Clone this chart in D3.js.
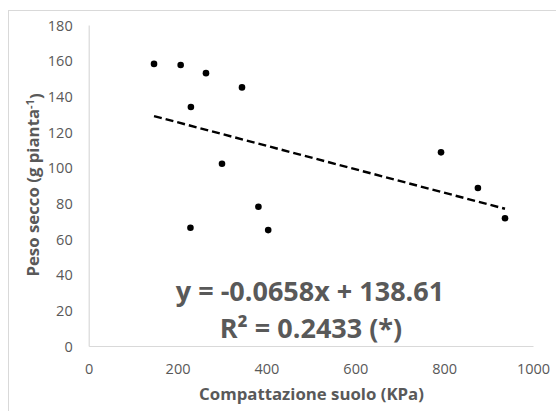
<!DOCTYPE html>
<html>
<head>
<meta charset="utf-8">
<script src="https://cdn.jsdelivr.net/npm/d3@7"></script>
<style>
  html, body { margin: 0; padding: 0; background: #fff; }
  svg { display: block; }
  text { font-family: "Open Sans", "Noto Sans", sans-serif; fill: #595959; }
</style>
</head>
<body>
<svg id="chart" width="556" height="411"></svg>
<script>
// ---- data ----
const compattazione = [147, 207, 264, 345, 230, 300, 382, 229, 404, 793, 876, 937];
const pesoSecco = [158.2, 157.6, 153.0, 145.0, 134.0, 102.2, 78.1, 66.3, 65.0, 108.6, 88.6, 71.6];
const xTicks = [0, 200, 400, 600, 800, 1000];
const yTicks = [0, 20, 40, 60, 80, 100, 120, 140, 160, 180];
const slope = -0.0658;
const intercept = 138.61;
const eqLabel = "y = -0.0658x + 138.61";
const r2Label = "R\u00B2 = 0.2433 (*)";
const xTitle = "Compattazione suolo (KPa)";
const yTitleMain = "Peso secco (g pianta";
const yTitleSup = "-1";
const yTitleEnd = ")";

// ---- layout ----
const svg = d3.select("#chart");
const W = 556, H = 411;
const x = d3.scaleLinear().domain([0, 1000]).range([88.7, 533]);
const y = d3.scaleLinear().domain([0, 180]).range([346, 25]);

// outer border
svg.append("rect")
  .attr("x", 8.5).attr("y", 10.5)
  .attr("width", W).attr("height", H)
  .attr("fill", "none").attr("stroke", "#d9d9d9").attr("stroke-width", 1);

// axes
const xAxis = d3.axisBottom(x).tickValues(xTicks).tickSize(0).tickPadding(0).tickFormat(d3.format("d"));
const yAxis = d3.axisLeft(y).tickValues(yTicks).tickSize(0).tickPadding(0).tickFormat(d3.format("d"));

const gx = svg.append("g").attr("transform", `translate(0,${y(0)})`).call(xAxis);
gx.select(".domain").attr("stroke", "#d9d9d9").attr("stroke-width", 1.2);
gx.selectAll("text")
  .attr("y", 0).attr("dy", null)
  .attr("transform", "translate(0,28)")
  .style("font-size", "14.5px").style("fill", "#595959").style("font-family", '"Open Sans", sans-serif');

const gy = svg.append("g").attr("transform", `translate(${x(0)},0)`).call(yAxis);
gy.select(".domain").attr("stroke", "#d9d9d9").attr("stroke-width", 1.2);
gy.selectAll("text")
  .attr("x", -16).attr("dy", "0.36em")
  .style("font-size", "14.5px").style("fill", "#595959").style("font-family", '"Open Sans", sans-serif');

// trend line
const xMin = d3.min(compattazione), xMax = d3.max(compattazione);
const trend = [xMin, xMax].map(v => [v, slope * v + intercept]);
svg.append("path")
  .datum(trend)
  .attr("d", d3.line().x(d => x(d[0])).y(d => y(d[1])))
  .attr("fill", "none").attr("stroke", "#000")
  .attr("stroke-width", 2.4).attr("stroke-dasharray", "8,4");

// points
svg.append("g").selectAll("circle")
  .data(compattazione.map((v, i) => [v, pesoSecco[i]]))
  .join("circle")
  .attr("cx", d => x(d[0])).attr("cy", d => y(d[1]))
  .attr("r", 3.3).attr("fill", "#000");

// equation
svg.append("text").attr("x", 310).attr("y", 301)
  .attr("text-anchor", "middle")
  .style("font-size", "27px").style("font-weight", "bold")
  .text(eqLabel);
svg.append("text").attr("x", 311).attr("y", 338)
  .attr("text-anchor", "middle")
  .style("font-size", "27px").style("font-weight", "bold")
  .text(r2Label);

// axis titles
svg.append("text").attr("x", 311.5).attr("y", 400)
  .attr("text-anchor", "middle")
  .style("font-size", "16.8px").style("font-weight", "bold")
  .text(xTitle);

const yt = svg.append("text")
  .attr("transform", "translate(39,185) rotate(-90)")
  .attr("text-anchor", "middle")
  .style("font-size", "16.8px").style("font-weight", "bold");
yt.append("tspan").text(yTitleMain);
yt.append("tspan").attr("dy", "-0.45em").style("font-size", "11px").text(yTitleSup);
yt.append("tspan").attr("dy", "0.45em").text(yTitleEnd);
</script>
</body>
</html>
